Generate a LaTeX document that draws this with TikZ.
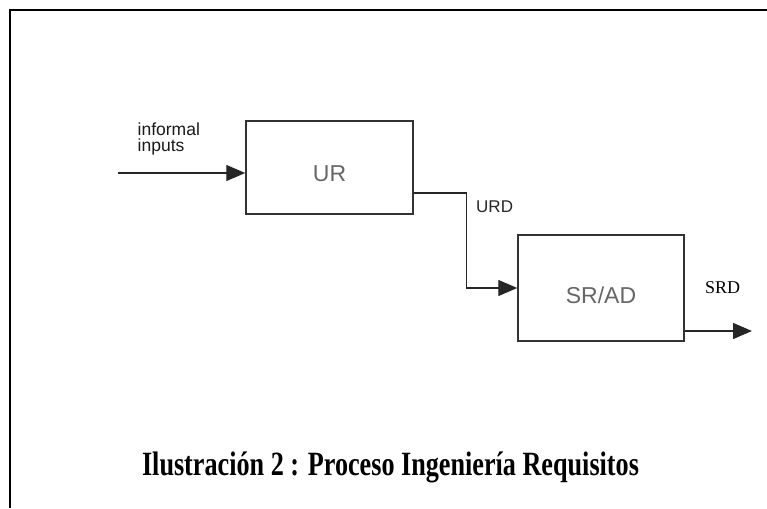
\documentclass[tikz,border=0pt]{standalone}
\usepackage{fontspec}
\setmainfont{Liberation Serif}
\setsansfont{Liberation Sans}
\usetikzlibrary{arrows.meta,positioning,calc}
\tikzstyle{block} = [rectangle, draw=black!80, line width=1.5pt, inner sep=0pt]
\tikzstyle{lbl} = [inner sep=0pt, font=\sffamily]
\tikzstyle{arrow} = [line width=1.4pt, draw=black!85, -{Triangle[length=19pt,width=16pt]}]

\begin{document}
\begin{tikzpicture}[x=1pt,y=-1pt]
    \useasboundingbox (0,0) rectangle (767,508);
    \draw [line width=2pt] (10,508) -- (10,10.5) -- (767,10.5);
    % boxes
    \node [block, minimum width=167pt, minimum height=93pt] (ur) at (329.5,167.5) {};
    \node [block, minimum width=166pt, minimum height=106pt] (srad) at (601,288) {};
    \node [lbl, text=black!60, font=\sffamily\fontsize{23}{23}\selectfont] (urtxt) at ([yshift=-6pt]ur.center) {UR};
    \node [lbl, text=black!60, font=\sffamily\fontsize{23}{23}\selectfont] (sradtxt) at ([yshift=-7pt]srad.center) {SR/AD};
    % connectors
    \coordinate (in) at (118,173);
    \coordinate (urdout) at ([yshift=-25.5pt]ur.east);
    \coordinate (srdout) at ([yshift=-43pt]srad.east);
    \coordinate (out) at (752,331);
    \draw [arrow] (in) -- (in -| ur.west);
    \draw [arrow] (urdout) -- ++(53,0) |- (srad.west);
    \draw [arrow] (srdout) -- (out);
    % labels
    \node [lbl, anchor=north west, align=left, text=black!90, font=\sffamily\fontsize{17.5}{16}\selectfont] (inputs) at (137.5,123) {informal\\inputs};
    \node [lbl, anchor=base west, text=black!85, font=\sffamily\fontsize{17}{17}\selectfont] (urd) at (476,212) {URD};
    \node [lbl, anchor=base west, font=\rmfamily\fontsize{18}{18}\selectfont] (srd) at (705,293) {SRD};
    \node [inner sep=0pt, anchor=base, xscale=0.77, font=\rmfamily\bfseries\fontsize{34}{34}\selectfont] (caption) at (390.5,475) {Ilustración 2 : Proceso Ingeniería Requisitos};
\end{tikzpicture}
\end{document}
